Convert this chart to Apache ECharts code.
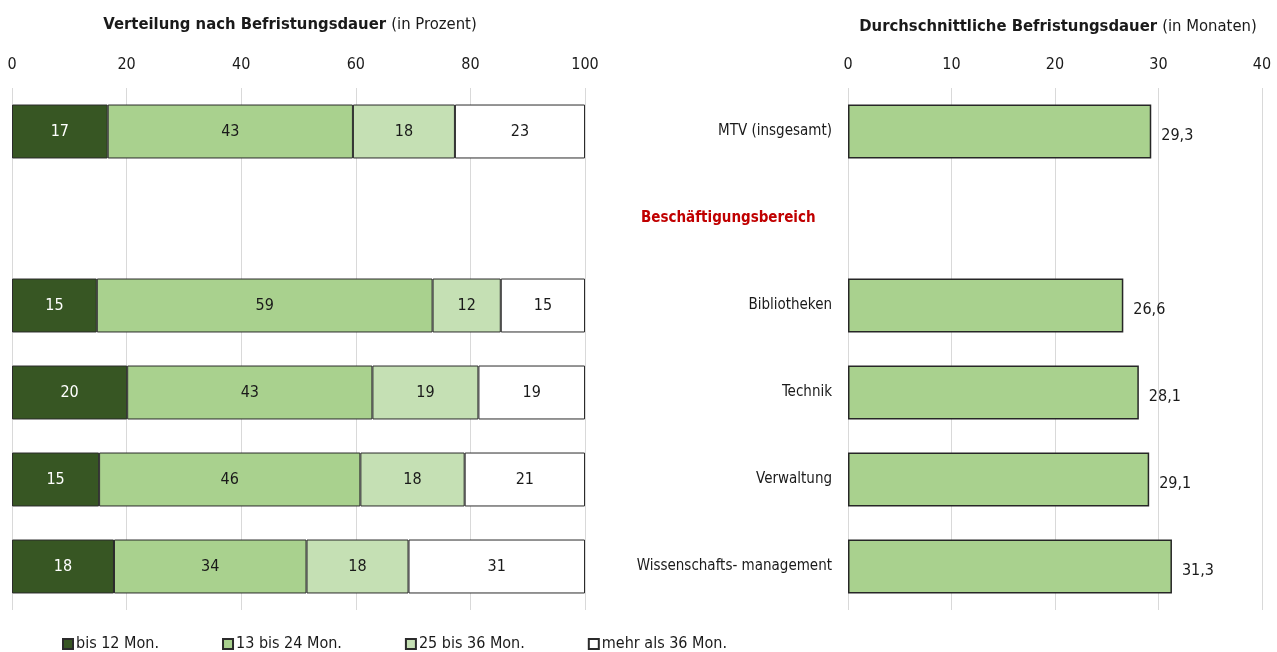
<!DOCTYPE html>
<html>
<head>
<meta charset="utf-8">
<script src="https://cdn.jsdelivr.net/npm/echarts@6/dist/echarts.min.js"></script>
<style>
  html, body { margin: 0; padding: 0; background: #fff; }
  #chart { width: 1277px; height: 652px; }
</style>
</head>
<body>
<div id="chart"></div>
<script>
// Zeilen (oben nach unten)
var categories = ['MTV (insgesamt)', 'Beschäftigungsbereich', 'Bibliotheken', 'Technik', 'Verwaltung', 'Wissenschafts- management'];
var seriesNames = ['bis 12 Mon.', '13 bis 24 Mon.', '25 bis 36 Mon.', 'mehr als 36 Mon.'];
// Verteilung in Prozent (aus der Balkenlänge geschätzt, Beschriftung gerundet)
var bis12 = [16.7, '-', 14.8, 20.1, 15.2, 17.8];
var bis24 = [42.8, '-', 58.6, 42.8, 45.6, 33.6];
var bis36 = [17.8, '-', 11.9, 18.5, 18.2, 17.8];
var mehr36 = [22.7, '-', 14.7, 18.6, 21.0, 30.8];
// durchschnittliche Dauer in Monaten
var dauer = [29.3, '-', 26.6, 28.1, 29.1, 31.3];

var FONT = '"DejaVu Sans Condensed", "Liberation Sans Narrow", sans-serif';
var colors = ['#375623', '#a9d18e', '#c5e0b4', '#ffffff'];
var labelColors = ['#ffffff', '#1a1a1a', '#1a1a1a', '#1a1a1a'];
var stackData = [bis12, bis24, bis36, mehr36];

var chart = echarts.init(document.getElementById('chart'));

var series = stackData.map(function (d, i) {
  return {
    name: seriesNames[i],
    type: 'bar',
    stack: 'verteilung',
    xAxisIndex: 0,
    yAxisIndex: 0,
    barCategoryGap: '38%',
    data: d,
    itemStyle: { color: colors[i], borderColor: '#2b2b2b', borderWidth: 1 },
    label: {
      show: true,
      position: 'inside',
      color: labelColors[i],
      fontFamily: FONT,
      fontSize: 16,
      formatter: function (p) { return Math.round(p.value); }
    }
  };
});

series.push({
  name: 'Dauer',
  type: 'bar',
  xAxisIndex: 1,
  yAxisIndex: 1,
  barCategoryGap: '38%',
  data: dauer,
  itemStyle: { color: '#a9d18e', borderColor: '#262626', borderWidth: 1.5 },
  label: {
    show: true,
    position: 'right',
    distance: 10,
    offset: [0, 4],
    color: '#1a1a1a',
    fontFamily: FONT,
    fontSize: 16,
    formatter: function (p) { return p.value.toFixed(1).replace('.', ','); }
  }
});

var titleRich = {
  b: { fontFamily: FONT, fontWeight: 'bold', fontSize: 16.5, color: '#1a1a1a' },
  n: { fontFamily: FONT, fontWeight: 'normal', fontSize: 16.5, color: '#1a1a1a' }
};

chart.setOption({
  backgroundColor: '#ffffff',
  animation: false,
  textStyle: { fontFamily: FONT },
  title: [
    {
      text: '{b|Verteilung nach Befristungsdauer} {n|(in Prozent)}',
      left: 285, top: 11, textAlign: 'center',
      textStyle: { fontWeight: 'normal', rich: titleRich }
    },
    {
      text: '{b|Durchschnittliche Befristungsdauer} {n|(in Monaten)}',
      left: 1053, top: 13, textAlign: 'center',
      textStyle: { fontWeight: 'normal', rich: titleRich }
    }
  ],
  legend: {
    data: seriesNames,
    left: 57, top: 631,
    itemWidth: 10, itemHeight: 10, itemGap: 63,
    icon: 'rect',
    textStyle: { fontFamily: FONT, fontSize: 16, color: '#1a1a1a', padding: [0, 0, 0, -2] }
  },
  grid: [
    { left: 12, width: 573, top: 88, height: 522, containLabel: false },
    { left: 848, width: 414, top: 88, height: 522, containLabel: false }
  ],
  xAxis: [
    {
      gridIndex: 0, type: 'value', position: 'top', min: 0, max: 100, interval: 20,
      axisLine: { show: false }, axisTick: { show: false },
      splitLine: { lineStyle: { color: '#d9d9d9', width: 1 } },
      axisLabel: { margin: 15, fontSize: 16, color: '#1a1a1a', fontFamily: FONT }
    },
    {
      gridIndex: 1, type: 'value', position: 'top', min: 0, max: 40, interval: 10,
      axisLine: { show: false }, axisTick: { show: false },
      splitLine: { lineStyle: { color: '#d9d9d9', width: 1 } },
      axisLabel: { margin: 15, fontSize: 16, color: '#1a1a1a', fontFamily: FONT }
    }
  ],
  yAxis: [
    {
      gridIndex: 0, type: 'category', data: categories, inverse: true,
      axisLine: { show: false }, axisTick: { show: false }, axisLabel: { show: false }
    },
    {
      gridIndex: 1, type: 'category', data: categories, inverse: true,
      axisLine: { show: false }, axisTick: { show: false },
      axisLabel: {
        margin: 16, fontSize: 15, color: '#1a1a1a', fontFamily: FONT,
        formatter: function (v) {
          return v === 'Beschäftigungsbereich' ? '{h|' + v + '}' : v;
        },
        rich: {
          h: { width: 191, align: 'left', fontWeight: 'bold', color: '#c00000', fontSize: 15, fontFamily: FONT }
        }
      }
    }
  ],
  series: series
});
</script>
</body>
</html>
